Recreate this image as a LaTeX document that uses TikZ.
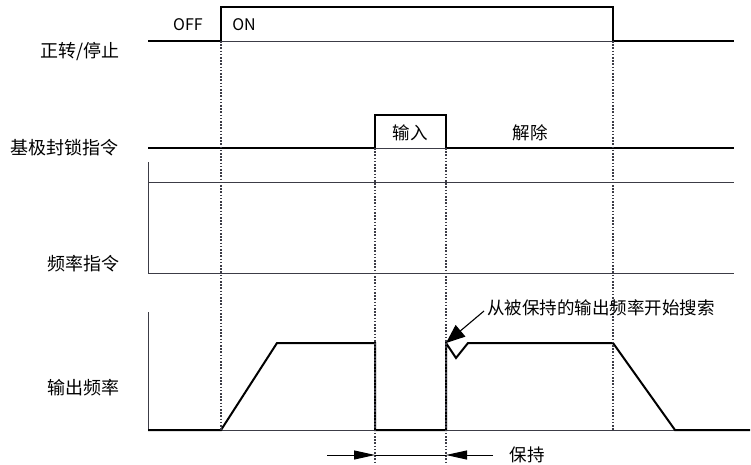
\documentclass[tikz,border=0pt]{standalone}
\usepackage{fontspec}
\setmainfont{Noto Sans CJK SC}
\usetikzlibrary{arrows.meta, positioning}
\definecolor{axisgray}{RGB}{60,60,70}

\begin{document}
\begin{tikzpicture}[x=1pt, y=-1pt,
  sig/.style={line width=2pt, line join=miter},
  base/.style={line width=0.9pt, axisgray},
  guide/.style={line width=1.1pt, axisgray, dash pattern=on 1.6pt off 1.6pt},
  lbl/.style={anchor=east, font=\fontsize{18}{20}\selectfont, inner sep=0pt},
  txt/.style={font=\fontsize{17.5}{20}\selectfont, inner sep=0pt},
]
  \useasboundingbox (0,0) rectangle (751,465);

  % Signal labels
  \node[lbl] (runlbl) at (120,52) {正转/停止};
  \node[lbl] (bblbl) at (119,148) {基极封锁指令};
  \node[lbl] (freflbl) at (120,264) {频率指令};
  \node[lbl] (foutlbl) at (120,388) {输出频率};

  % Run / stop
  \draw[base] (221,41) -- (613,41);
  \draw[sig] (148,41) -- (221,41) -- (221,7) -- (613,7) -- (613,41) -- (734,41);
  \node[txt, font=\fontsize{16}{18}\selectfont] (off) at (188,25) {OFF};
  \node[txt, font=\fontsize{16}{18}\selectfont] (on) at (244,25) {ON};

  % Baseblock command
  \draw[base] (375,148) -- (446,148);
  \draw[sig] (148,148) -- (375,148) -- (375,115) -- (446,115) -- (446,148) -- (734,148);
  \node[txt] (bbin) at (410,133) {输入};
  \node[txt] (bbout) at (530,133) {解除};

  % Frequency reference
  \draw[base] (148,162) -- (148,273) -- (734,273);
  \draw[base] (148,182) -- (734,182);

  % Output frequency
  \draw[base] (148,312) -- (148,430) -- (750,430);
  \draw[sig] (148,430) -- (221,430) -- (277,343) -- (375,343) -- (375,430)
    -- (446,430) -- (446,343) -- (456,358) -- (468,343) -- (613,343)
    -- (675,430) -- (750,430);

  % Timing guides
  \draw[guide] (221,41) -- (221,430);
  \draw[guide] (375,148) -- (375,465);
  \draw[guide] (446,148) -- (446,465);
  \draw[guide] (613,41) -- (613,430);

  % Search annotation
  \node[txt, anchor=west] (search) at (487,308) {从被保持的输出频率开始搜索};
  \coordinate (restart) at (446,343);
  \draw[line width=1.1pt, -{Triangle[length=19pt, width=15pt]}] (search.west) ++(-3,3) -- (restart);

  % Hold interval
  \coordinate (holdL) at (327,455);
  \coordinate (holdA) at (375,455);
  \coordinate (holdB) at (446,455);
  \coordinate (holdR) at (493,455);
  \node[txt] (hold) at (527,455) {保持};
  \draw[line width=1pt, -{Triangle[length=21pt, width=9pt]}] (holdL) -- (holdA);
  \draw[line width=1pt] (holdA) -- (holdB);
  \draw[line width=1pt, -{Triangle[length=21pt, width=9pt]}] (holdR) -- (holdB);
\end{tikzpicture}
\end{document}
